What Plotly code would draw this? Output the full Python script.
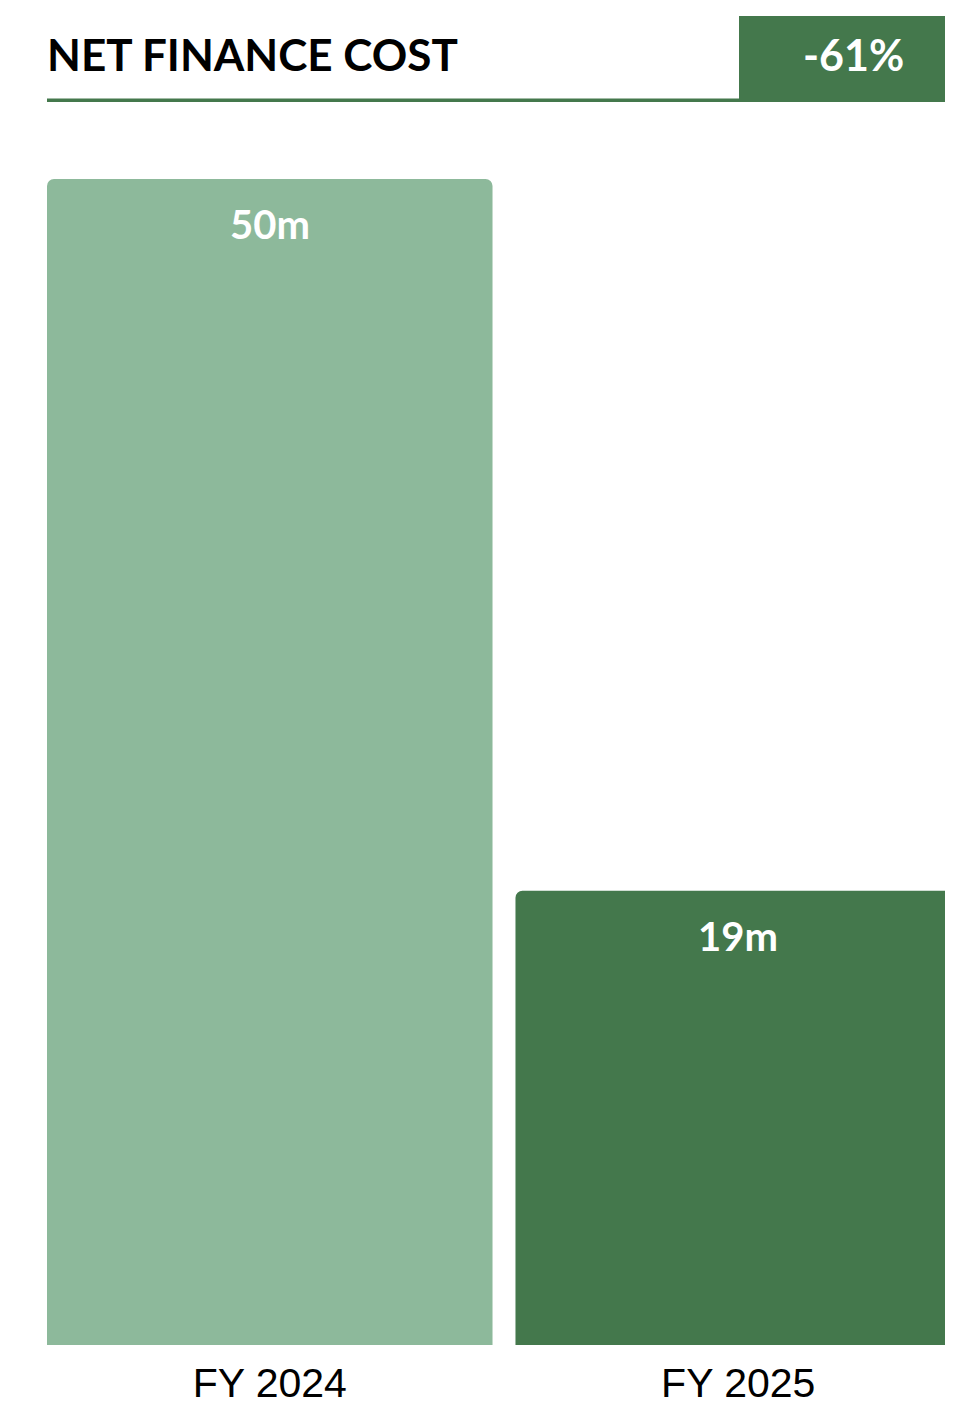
import plotly.graph_objects as go

categories = ["FY 2024", "FY 2025"]
values = [49.8, 19.4]
value_labels = ["50m", "19m"]
bar_colors = ["#8DB99B", "#44784C"]
title_text = "NET FINANCE COST"
change_text = "-61%"

W, H = 953, 1405
ML, MR, MT, MB = 39, 0, 171, 68
PW = W - ML - MR
PH = H - MT - MB
BARGAP = 0.049
HALF = 0.5 * (1 - BARGAP)

def px_x(x):
    return (x - ML) / PW

def px_y(y):
    return (H - MB - y) / PH

fig = go.Figure()
fig.add_trace(go.Bar(
    x=categories, y=values,
    marker=dict(color=bar_colors, cornerradius=7, line=dict(width=0)),
    hoverinfo="skip",
))

for c, v, t in zip(categories, values, value_labels):
    fig.add_annotation(x=c, y=v, xref="x", yref="y", text=t, showarrow=False,
                       yanchor="top", yshift=-19,
                       font=dict(family="Lato, Open Sans, sans-serif", size=40, color="white", weight="bold"))

# header
fig.add_shape(type="rect", xref="paper", yref="paper",
              x0=px_x(731), x1=px_x(953), y0=px_y(94), y1=px_y(8),
              fillcolor="#44784C", line=dict(width=0), layer="above")
fig.add_shape(type="rect", xref="paper", yref="paper",
              x0=px_x(39), x1=px_x(731), y0=px_y(94), y1=px_y(90.5),
              fillcolor="#44784C", line=dict(width=0), layer="above")
fig.add_annotation(xref="paper", yref="paper", x=px_x(37), y=px_y(46), text=title_text,
                   showarrow=False, xanchor="left", yanchor="middle",
                   font=dict(family="Lato, Open Sans, sans-serif", size=44, color="black", weight="bold"))
fig.add_annotation(xref="paper", yref="paper", x=px_x(845), y=px_y(46), text=change_text,
                   showarrow=False, xanchor="center", yanchor="middle",
                   font=dict(family="Lato, Open Sans, sans-serif", size=43, color="white", weight="bold"))

fig.update_layout(
    template="none",
    width=W, height=H,
    margin=dict(l=ML, r=MR, t=MT, b=MB, pad=0, autoexpand=False),
    paper_bgcolor="white", plot_bgcolor="white",
    showlegend=False,
    bargap=BARGAP,
    xaxis=dict(range=[-HALF, 1 + HALF], showgrid=False, showline=False, zeroline=False, ticks="",
               automargin=False,
               tickfont=dict(family="Liberation Sans, Arial", size=41, color="black"),
               ticklabelstandoff=10, fixedrange=True),
    yaxis=dict(range=[0, max(values)], visible=False, fixedrange=True, automargin=False),
)

fig.write_html("out.html")
